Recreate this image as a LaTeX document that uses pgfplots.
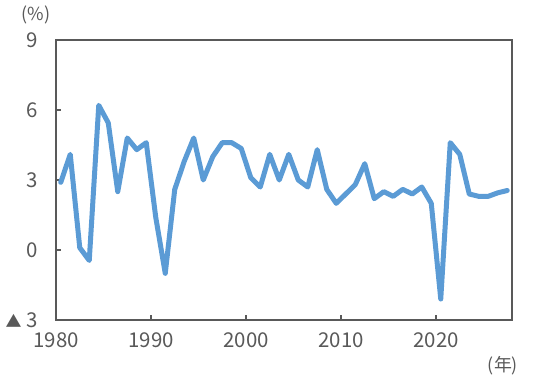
\documentclass[border=0pt]{standalone}
\usepackage{pgfplots}
\pgfplotsset{compat=1.18}
\usepackage{fontspec}
\setmainfont{Noto Sans CJK JP}
\definecolor{txt}{HTML}{595959}
\definecolor{ln}{HTML}{5B9BD5}
\begin{document}
\begin{tikzpicture}[x=1bp,y=1bp]
\useasboundingbox (0,0) rectangle (550,374);
\begin{axis}[
  at={(56bp,54bp)}, anchor=south west,
  scale only axis, width=456bp, height=280bp,
  xmin=1980, xmax=2028, ymin=-3, ymax=9,
  xtick={1980,1990,2000,2010,2020}, xticklabels={1980,1990,2000,2010,2020},
  ytick={-3,0,3,6,9}, yticklabels={{{\fontsize{16}{16}\selectfont ▲}\hspace{5bp}3},0,3,6,9},
  tick align=inside, major tick length=5bp,
  axis line style={txt, line width=1.4bp}, tick style={txt, line width=1.4bp},
  ticklabel style={font=\fontsize{20.5}{22}\selectfont, text=txt, inner sep=0pt},
  xtick pos=bottom, ytick pos=left,
  yticklabel style={anchor=east, xshift=-18bp},
  xticklabel style={anchor=north, yshift=-12bp},
  clip=false,
]
\addplot[ln, line width=5bp, line join=round, line cap=round] coordinates {
(1980.5,2.9) (1981.5,4.1) (1982.5,0.1) (1983.5,-0.45) (1984.5,6.2)
(1985.5,5.45) (1986.5,2.5) (1987.5,4.8) (1988.5,4.3) (1989.5,4.6)
(1990.5,1.4) (1991.5,-1.0) (1992.5,2.6) (1993.5,3.8) (1994.5,4.8)
(1995.5,3.0) (1996.5,4.0) (1997.5,4.6) (1998.5,4.6) (1999.5,4.35)
(2000.5,3.1) (2001.5,2.7) (2002.5,4.1) (2003.5,3.0) (2004.5,4.1)
(2005.5,3.0) (2006.5,2.7) (2007.5,4.3) (2008.5,2.6) (2009.5,2.0)
(2010.5,2.4) (2011.5,2.8) (2012.5,3.7) (2013.5,2.2) (2014.5,2.5)
(2015.5,2.3) (2016.5,2.6) (2017.5,2.4) (2018.5,2.7) (2019.5,2.0)
(2020.5,-2.1) (2021.5,4.6) (2022.5,4.1) (2023.5,2.4) (2024.5,2.3)
(2025.5,2.3) (2026.5,2.45) (2027.5,2.55)
};
\end{axis}
\node[text=txt, font=\fontsize{18}{20}\selectfont, inner sep=0pt] at (36,359) {(\%)};
\node[text=txt, font=\fontsize{18}{20}\selectfont, inner sep=0pt] at (503,8) {(年)};
\end{tikzpicture}
\end{document}
